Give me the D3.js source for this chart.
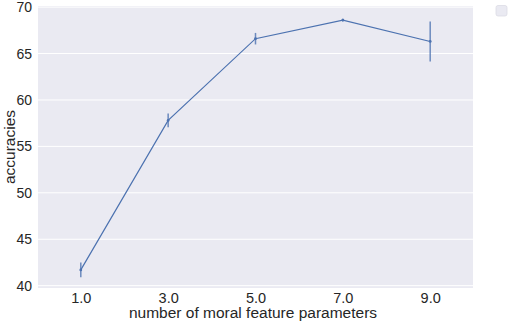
<!DOCTYPE html>
<html>
<head>
<meta charset="utf-8">
<script src="https://cdn.jsdelivr.net/npm/d3@7"></script>
<style>
  body { margin: 0; background: #fff; }
  text { font-family: "Liberation Sans", Arial, sans-serif; }
</style>
</head>
<body>
<svg id="chart"></svg>
<script>
// number of moral feature parameters vs accuracy, with spread
var params = [1, 3, 5, 7, 9]
var accuracies = [41.7, 57.8, 66.6, 68.6, 66.3]
var errors = [0.8, 0.75, 0.62, 0.15, 2.15]
var xTicks = [1, 3, 5, 7, 9]
var yTicks = [40, 45, 50, 55, 60, 65, 70]

var width = 510, height = 325
var margin = {left: 38, right: 37, top: 6, bottom: 37}

var w = width - margin.left - margin.right,
    h = height - margin.top - margin.bottom

var svg = d3.select('#chart')
    .attr('width', width)
    .attr('height', height)

var g = svg.append('g')
    .attr('transform', 'translate(' + margin.left + ',' + margin.top + ')')

var x = d3.scaleLinear().domain([0.02, 9.98]).range([0, w])
var y = d3.scaleLinear().domain([39.75, 70.12]).range([h, 0])

g.append('rect')
    .attr('width', w)
    .attr('height', h)
    .attr('fill', '#eaeaf2')

// grid
g.selectAll('.grid')
    .data(yTicks)
  .enter().append('line')
    .attr('x1', 0)
    .attr('x2', w)
    .attr('y1', function(d) { return y(d) })
    .attr('y2', function(d) { return y(d) })
    .attr('stroke', '#fff')
    .attr('stroke-width', 1)

var yAxis = g.append('g')
    .call(d3.axisLeft(y).tickValues(yTicks).tickSize(0).tickPadding(6))
yAxis.select('.domain').remove()
yAxis.selectAll('text')
    .attr('font-size', 14)
    .attr('fill', '#262626')

var xAxis = g.append('g')
    .attr('transform', 'translate(0,' + h + ')')
    .call(d3.axisBottom(x).tickValues(xTicks).tickFormat(d3.format('.1f')).tickSize(0).tickPadding(5))
xAxis.select('.domain').remove()
xAxis.selectAll('text')
    .attr('font-size', 14.5)
    .attr('fill', '#262626')

svg.append('text')
    .attr('x', 253)
    .attr('y', 318)
    .attr('text-anchor', 'middle')
    .attr('font-size', 15.5)
    .attr('fill', '#262626')
    .text('number of moral feature parameters')

svg.append('text')
    .attr('transform', 'translate(14.5,' + (margin.top + h / 2) + ') rotate(-90)')
    .attr('text-anchor', 'middle')
    .attr('font-size', 15.5)
    .attr('fill', '#262626')
    .text('accuracies')

var data = params.map(function(p, i) {
  return {x: p, y: accuracies[i], e: errors[i]}
})

// error bars
g.selectAll('.err')
    .data(data)
  .enter().append('line')
    .attr('x1', function(d) { return x(d.x) })
    .attr('x2', function(d) { return x(d.x) })
    .attr('y1', function(d) { return y(d.y - d.e) })
    .attr('y2', function(d) { return y(d.y + d.e) })
    .attr('stroke', '#4c72b0')
    .attr('stroke-opacity', 0.8)
    .attr('stroke-width', 1.5)

var line = d3.line()
    .x(function(d) { return x(d.x) })
    .y(function(d) { return y(d.y) })

g.append('path')
    .datum(data)
    .attr('d', line)
    .attr('fill', 'none')
    .attr('stroke', '#4c72b0')
    .attr('stroke-width', 1.2)

g.selectAll('.pt')
    .data(data)
  .enter().append('circle')
    .attr('cx', function(d) { return x(d.x) })
    .attr('cy', function(d) { return y(d.y) })
    .attr('r', 1.4)
    .attr('fill', '#4c72b0')

// empty legend box
svg.append('rect')
    .attr('x', 496)
    .attr('y', 5.5)
    .attr('width', 11)
    .attr('height', 10.5)
    .attr('rx', 2)
    .attr('fill', '#eaeaf2')
    .attr('stroke', '#dcdce4')
    .attr('stroke-width', 0.8)
</script>
</body>
</html>
